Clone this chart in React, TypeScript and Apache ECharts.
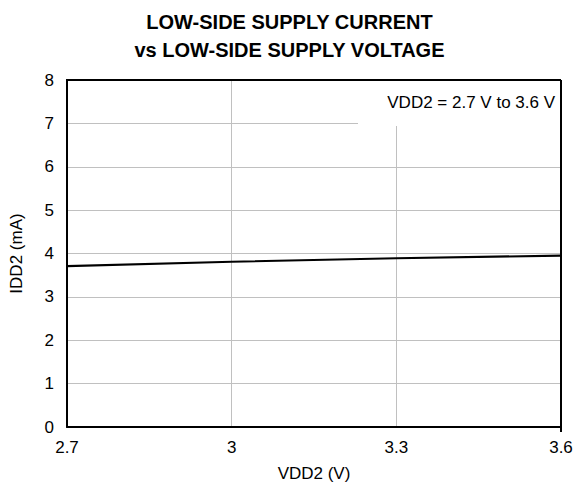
import React, { useEffect, useRef } from "react";
import * as echarts from "echarts";

const vdd2: number[] = [2.7, 3.0, 3.3, 3.6];
const idd2: number[] = [3.71, 3.81, 3.89, 3.95];
const titleLines: string[] = ["LOW-SIDE SUPPLY CURRENT", "vs LOW-SIDE SUPPLY VOLTAGE"];
const annotation = "VDD2 = 2.7 V to 3.6 V";

export default function App() {
  const ref = useRef<HTMLDivElement>(null);
  useEffect(() => {
    if (!ref.current) return;
    const chart = echarts.init(ref.current, undefined, { renderer: "svg" });
    const font = "Liberation Sans, Arial, sans-serif";
    chart.setOption({
      animation: false,
      backgroundColor: "#ffffff",
      textStyle: { fontFamily: font },
      title: {
        text: titleLines.join("\n"),
        left: "center",
        top: 3,
        textStyle: { fontFamily: font, fontSize: 20, fontWeight: "bold", color: "#000", lineHeight: 28 },
      },
      grid: { left: 66, right: 18, top: 80, bottom: 55, containLabel: false },
      xAxis: {
        type: "value",
        min: 2.7,
        max: 3.6,
        interval: 0.3,
        name: "VDD2 (V)",
        nameLocation: "middle",
        nameGap: 38,
        nameTextStyle: { fontFamily: font, fontSize: 17, color: "#000" },
        axisLine: { show: true, onZero: false, lineStyle: { color: "#000", width: 2 } },
        axisTick: { show: false },
        axisLabel: { fontFamily: font, fontSize: 17, color: "#000", margin: 12, formatter: (v: number) => String(+v.toFixed(1)) },
        splitLine: { show: true, lineStyle: { color: "#c0c0c0", width: 1 } },
      },
      yAxis: {
        type: "value",
        min: 0,
        max: 8,
        interval: 1,
        name: "IDD2 (mA)",
        nameLocation: "middle",
        nameGap: 42,
        nameTextStyle: { fontFamily: font, fontSize: 17, color: "#000" },
        axisLine: { show: true, lineStyle: { color: "#000", width: 2 } },
        axisTick: { show: false },
        axisLabel: { fontFamily: font, fontSize: 17, color: "#000", margin: 13 },
        splitLine: { show: true, lineStyle: { color: "#c0c0c0", width: 1 } },
      },
      graphic: [
        {
          type: "rect",
          right: 18,
          top: 81,
          shape: { width: 203, height: 45 },
          style: { fill: "#ffffff" },
          z: 10,
        },
        {
          type: "line",
          shape: { x1: 66, y1: 80, x2: 561, y2: 80 },
          style: { stroke: "#000", lineWidth: 2 },
          z: 11,
        },
        {
          type: "line",
          shape: { x1: 561, y1: 80, x2: 561, y2: 432 },
          style: { stroke: "#000", lineWidth: 2 },
          z: 11,
        },
        {
          type: "text",
          right: 24,
          top: 94,
          style: { text: annotation, font: `17px ${font}`, fill: "#000" },
          z: 12,
        },
      ],
      series: [
        {
          type: "line",
          data: vdd2.map((x, i) => [x, idd2[i]]),
          showSymbol: false,
          lineStyle: { color: "#000", width: 2.2 },
          z: 5,
        },
      ],
    });
    return () => chart.dispose();
  }, []);
  return (
    <div
      ref={ref}
      style={{ position: "absolute", left: 0, top: 0, width: 579, height: 487 }}
    />
  );
}
